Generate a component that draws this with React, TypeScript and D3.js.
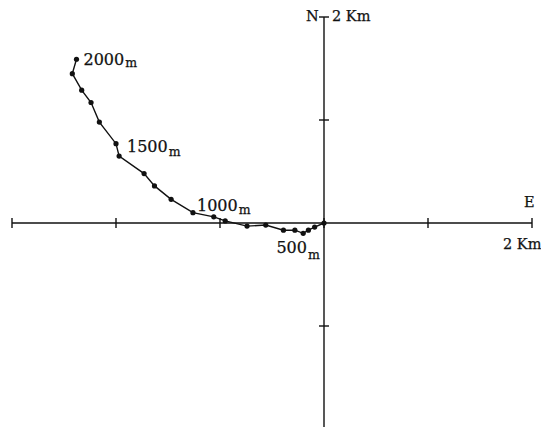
import React, { useRef, useEffect } from 'react';
import * as d3 from 'd3';

// heights along the track (m), east / north displacement (km)
const heights = [0, 100, 200, 300, 400, 500, 600, 700, 800, 900, 1000, 1100, 1200, 1300, 1400, 1500, 1600, 1700, 1800, 1900, 2000];
const east = [0, -0.09, -0.15, -0.2, -0.28, -0.39, -0.56, -0.74, -0.95, -1.06, -1.26, -1.47, -1.63, -1.73, -1.97, -2.0, -2.16, -2.24, -2.33, -2.42, -2.38];
const north = [0, -0.04, -0.07, -0.1, -0.07, -0.07, -0.02, -0.03, 0.02, 0.06, 0.1, 0.23, 0.36, 0.48, 0.65, 0.77, 0.98, 1.17, 1.29, 1.45, 1.59];

const xTicks = [-3, -2, -1, 0, 1, 2];
const yTicks = [-2, -1, 1, 2];

// height labels, with hand-picked offsets from the point
const labels = [
  { h: 2000, dx: 7, dy: 6, sub: 2 },
  { h: 1500, dx: 11, dy: 8, sub: 4 },
  { h: 1000, dx: 4, dy: -1.5, sub: 3 },
  { h: 500, dx: -7, dy: 23, sub: 6 },
];

const W = 541;
const H = 427;

const App = () => {
  const svgRef = useRef(null);

  useEffect(() => {
    const svg = d3.select(svgRef.current);
    svg.selectAll('*').remove();

    const x = d3.scaleLinear().domain([-3, 2]).range([12, 532]);
    const y = d3.scaleLinear().domain([-2, 2]).range([429, 17]);
    const x0 = x(0);
    const y0 = y(0);
    const font = "'DejaVu Serif', serif";

    const g = svg.append('g').attr('stroke', '#111').attr('stroke-width', 1.4);

    // axes
    g.append('line').attr('x1', x(-3)).attr('x2', x(2)).attr('y1', y0).attr('y2', y0);
    g.append('line').attr('x1', x0).attr('x2', x0).attr('y1', y(2)).attr('y2', H);

    g.selectAll('.xt')
      .data(xTicks)
      .join('line')
      .attr('x1', d => x(d))
      .attr('x2', d => x(d))
      .attr('y1', y0 - 5)
      .attr('y2', y0 + 5);

    g.selectAll('.yt')
      .data(yTicks)
      .join('line')
      .attr('x1', x0 - 5)
      .attr('x2', x0 + 5)
      .attr('y1', d => y(d))
      .attr('y2', d => y(d));

    // track
    const pts = heights.map((h, i) => [x(east[i]), y(north[i])]);
    svg.append('path')
      .attr('d', d3.line()(pts))
      .attr('fill', 'none')
      .attr('stroke', '#111')
      .attr('stroke-width', 1.4);

    svg.selectAll('circle')
      .data(pts)
      .join('circle')
      .attr('cx', d => d[0])
      .attr('cy', d => d[1])
      .attr('r', 2.6)
      .attr('fill', '#111');

    // height labels
    labels.forEach(l => {
      const i = heights.indexOf(l.h);
      const t = svg.append('text')
        .attr('x', pts[i][0] + l.dx)
        .attr('y', pts[i][1] + l.dy)
        .attr('font-family', font)
        .attr('font-size', 16)
        .attr('fill', '#111')
        .attr('stroke', '#111')
        .attr('stroke-width', 0.25);
      t.append('tspan').text(String(l.h));
      t.append('tspan').attr('dx', 1).attr('dy', l.sub).attr('font-size', 12.5).text('m');
    });

    // axis names
    const txt = (tx, ty, s, size = 14.5) =>
      svg.append('text')
        .attr('x', tx)
        .attr('y', ty)
        .attr('font-family', font)
        .attr('font-size', size)
        .attr('fill', '#111')
        .attr('stroke', '#111')
        .attr('stroke-width', 0.25)
        .text(s);

    txt(x(2) - 8, y0 - 16, 'E');
    txt(x(2) - 29, y0 + 26, '2 Km');
    txt(x0 - 18, 21, 'N');
    txt(x0 + 8, 21, '2 Km');
  }, []);

  return (
    <svg
      ref={svgRef}
      width={W}
      height={H}
      style={{ position: 'absolute', left: 0, top: 0, background: '#fff' }}
    />
  );
};

export default App;
